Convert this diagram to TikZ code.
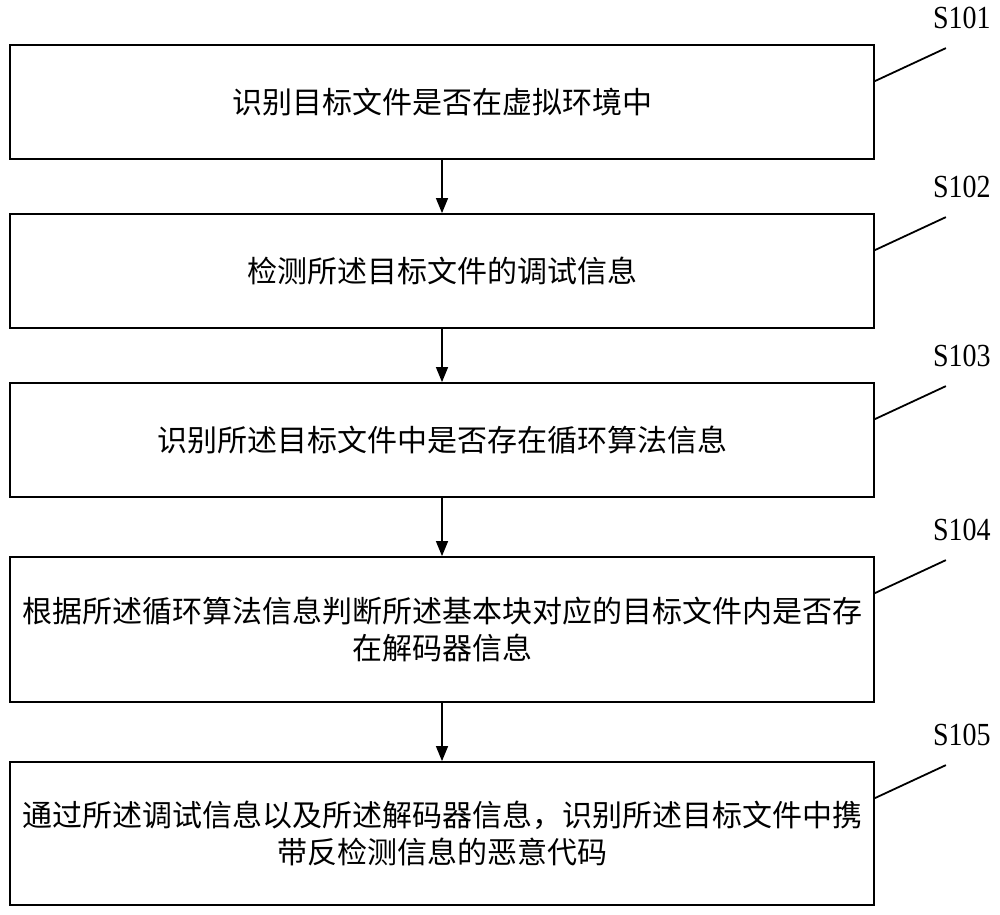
\documentclass[tikz,border=0pt]{standalone}
\usepackage{fontspec}
\usepackage{graphicx}
\usetikzlibrary{calc,arrows.meta}
\newfontfamily\cjk{Noto Sans CJK SC}
\newfontfamily\labfont{Liberation Serif}
\tikzset{
  stepbox/.style={draw=black, line width=1.8pt, rectangle, minimum width=864pt, inner sep=0pt, align=center, font=\cjk\fontsize{30}{37}\selectfont},
  arr/.style={line width=1.3pt, -{Triangle[length=15pt,width=12pt]}},
  leader/.style={line width=1.8pt},
  steplabel/.style={font=\labfont\fontsize{28}{30}\selectfont, inner sep=0pt}
}
\begin{document}
\begin{tikzpicture}[x=1pt,y=-1pt]
\useasboundingbox (0,0) rectangle (1000,914);
\node[stepbox, minimum height=114pt] (b1) at (442,102) {识别目标文件是否在虚拟环境中};
\node[stepbox, minimum height=114pt] (b2) at (442,271) {检测所述目标文件的调试信息};
\node[stepbox, minimum height=114pt] (b3) at (442,440) {识别所述目标文件中是否存在循环算法信息};
\node[stepbox, minimum height=145pt] (b4) at (442,629.5) {根据所述循环算法信息判断所述基本块对应的目标文件内是否存\\在解码器信息};
\node[stepbox, minimum height=143pt] (b5) at (442,833.5) {通过所述调试信息以及所述解码器信息，识别所述目标文件中携\\带反检测信息的恶意代码};
\foreach \i in {1,...,4}{
  \pgfmathtruncatemacro{\j}{\i+1}
  \draw[arr] (b\i.south) -- (b\j.north);
}
\foreach \i in {1,...,5}{
  \coordinate (ls\i) at ($(b\i.north east)+(0,37)$);
  \coordinate (le\i) at ($(b\i.north east)+(71,4)$);
  \draw[leader] (ls\i) -- (le\i);
  \node[steplabel] (s\i) at ($(b\i.north east)+(87,-26)$) {\scalebox{1}[1.15]{S10\i}};
}
\end{tikzpicture}
\end{document}
